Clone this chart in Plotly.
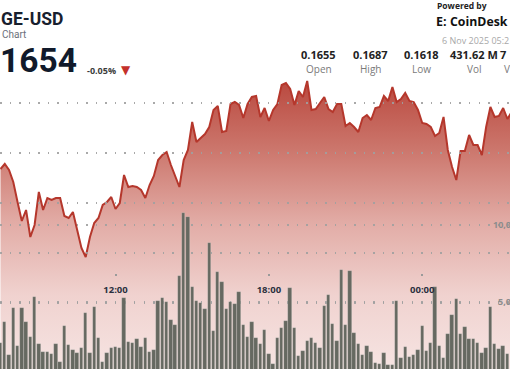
import plotly.graph_objects as go
import pandas as pd

# ---------------- data ----------------
times = pd.date_range("2025-11-05 07:30", periods=121, freq="10min")

price = [
    0.16536, 0.16556, 0.16532, 0.16484, 0.16404, 0.16328, 0.16372, 0.16264, 0.16312, 0.16444,
    0.16372, 0.16420, 0.16412, 0.16420, 0.16420, 0.16348, 0.16340, 0.16364, 0.16292, 0.16220,
    0.16184, 0.16264, 0.16320, 0.16340, 0.16392, 0.16404, 0.16424, 0.16376, 0.16400, 0.16512,
    0.16464, 0.16468, 0.16464, 0.16452, 0.16420, 0.16472, 0.16508, 0.16572, 0.16592, 0.16604,
    0.16552, 0.16508, 0.16464, 0.16572, 0.16612, 0.16724, 0.16644, 0.16660, 0.16676, 0.16704,
    0.16772, 0.16788, 0.16684, 0.16688, 0.16796, 0.16804, 0.16792, 0.16740, 0.16796, 0.16824,
    0.16828, 0.16744, 0.16780, 0.16728, 0.16772, 0.16796, 0.16872, 0.16880, 0.16856, 0.16792,
    0.16848, 0.16824, 0.16888, 0.16772, 0.16776, 0.16800, 0.16824, 0.16776, 0.16764, 0.16796,
    0.16796, 0.16708, 0.16720, 0.16704, 0.16684, 0.16740, 0.16752, 0.16732, 0.16780, 0.16784,
    0.16828, 0.16808, 0.16864, 0.16804, 0.16816, 0.16840, 0.16808, 0.16804, 0.16772, 0.16720,
    0.16716, 0.16704, 0.16668, 0.16680, 0.16744, 0.16612, 0.16544, 0.16492, 0.16608, 0.16608,
    0.16672, 0.16632, 0.16632, 0.16592, 0.16704, 0.16784, 0.16744, 0.16748, 0.16780, 0.16736,
    0.16764,
]

# volume per 10-minute bar, in millions
vol_m = [
    2.34, 3.72, 1.56, 4.63, 2.14, 4.63, 3.70, 2.73, 5.34, 2.27,
    1.75, 1.77, 1.62, 2.27, 1.12, 3.44, 2.21, 1.88, 1.71, 1.99,
    4.27, 1.67, 4.66, 2.64, 1.12, 1.67, 1.99, 2.10, 1.99, 5.28,
    2.42, 2.36, 2.58, 2.10, 2.64, 1.77, 1.88, 5.08, 5.28, 5.02,
    3.83, 3.51, 6.69, 10.76, 10.50, 5.95, 5.08, 4.95, 4.53, 8.85,
    3.14, 6.97, 6.32, 4.53, 5.02, 4.87, 5.63, 3.51, 2.71, 3.68,
    2.64, 2.27, 3.18, 1.60, 0.95, 2.68, 3.33, 3.77, 5.89, 3.29,
    1.49, 1.84, 2.49, 2.64, 2.32, 2.03, 4.74, 5.45, 3.55, 2.49,
    7.08, 3.51, 7.03, 3.01, 2.27, 1.56, 2.16, 1.77, 1.06, 0.97,
    1.71, 0.91, 0.91, 5.06, 1.34, 2.06, 1.45, 1.56, 1.88, 3.44,
    1.84, 2.32, 5.95, 2.14, 1.38, 2.92, 4.16, 5.19, 2.90, 3.36,
    2.58, 2.58, 2.36, 1.67, 2.03, 4.69, 2.27, 1.93, 2.16, 1.62,
]

x_tick_vals = ["2025-11-05 12:00", "2025-11-05 18:00", "2025-11-06 00:00"]
x_tick_text = ["12:00", "18:00", "00:00"]
price_grid = [0.160, 0.162, 0.164, 0.166, 0.168]
vol_tick_vals = [5, 10]
vol_tick_text = ["5,0", "10,0"]          # visible part of the cropped axis labels

stat_values = ["0.1655", "0.1687", "0.1618", "431.62 M", "7"]
stat_labels = ["Open", "High", "Low", "Vol", "V"]

symbol = "GE-USD"            # visible part of the cropped header
subtitle = "Chart"
last_price = "1654"
change_pct = "-0.05%"
timestamp = "6 Nov 2025 05:2"

# ---------------- layout helpers ----------------
W, H = 510, 369
FONT = "Open Sans"
HEAD_FONT = "Roboto"


def px(x):
    return x / W


def py(y):
    return 1 - y / H


X_RANGE = ["2025-11-05 07:28:50", "2025-11-06 03:26:00"]
PRICE_RANGE = [0.15736, 0.17212]
VOL_RANGE = [0.649, 24.61]
GRID_COLOR = "rgba(160,160,160,0.9)"
GRID_DASH = "1.5px,8.07px"

fig = go.Figure()

fig.add_trace(go.Scatter(
    x=times, y=price, mode="lines",
    line=dict(color="#b5372c", width=2),
    fill="tozeroy",
    fillgradient=dict(
        type="vertical", start=0.1574, stop=0.1690,
        colorscale=[
            [0.0, "#f6e4e2"],
            [0.25, "#f0d2cf"],
            [0.5, "#e2aca6"],
            [0.75, "#cc776d"],
            [1.0, "#b9473d"],
        ],
    ),
    xaxis="x", yaxis="y", hoverinfo="skip",
))

fig.add_trace(go.Bar(
    x=times[:len(vol_m)], y=vol_m,
    width=10 * 60 * 1000 * 0.8,
    marker=dict(color="#666961", line=dict(color="rgba(255,255,255,0.3)", width=0.6)),
    xaxis="x2", yaxis="y2", hoverinfo="skip",
))

# invisible trace so the overlaid price-grid axis is drawn
fig.add_trace(go.Scatter(
    x=[times[0]], y=[price_grid[0]], mode="markers",
    marker=dict(opacity=0, size=1), xaxis="x2", yaxis="y3", hoverinfo="skip",
))

annotations = []


def add_text(text, x, y, size, color, xanchor="left", yanchor="middle", bold=False, family=FONT):
    annotations.append(dict(
        text=text, x=px(x), y=py(y), xref="paper", yref="paper",
        xanchor=xanchor, yanchor=yanchor, showarrow=False, borderpad=0,
        font=dict(family=family, size=size, color=color, weight="bold" if bold else "normal"),
    ))


add_text(symbol, -0.5, 19, 17.5, "#18202e", bold=True, family=HEAD_FONT)
add_text(subtitle, 1, 34, 10, "#6b707a", family=HEAD_FONT)
add_text(last_price, -1, 60, 33.5, "#111a2b", bold=True, family=HEAD_FONT)
add_text(change_pct, 86, 70, 9, "#3c3c3c", bold=True)
add_text("▼", 126, 70, 12, "#c4312b", xanchor="center", family="DejaVu Sans")

add_text("Powered by", 436, 5.5, 8.5, "#222222", bold=True)
add_text("E:", 435, 22, 12.5, "#111111", bold=True)
add_text("CoinDesk", 448.5, 22, 12.3, "#111111", bold=True)
add_text(timestamp, 441, 40, 9, "#a8a8a8")

stat_centers = [318.5, 370, 421, 474]
for val, lab, cx in zip(stat_values[:4], stat_labels[:4], stat_centers):
    add_text(val, cx, 54, 11, "#222222", xanchor="center", bold=True)
    add_text(lab, cx, 68.5, 10, "#7a7a7a", xanchor="center")
# last column is cut by the right edge: only its first glyphs show
add_text(stat_values[4], 499, 54, 11, "#222222", bold=True)
add_text(stat_labels[4], 503, 68.5, 10, "#7a7a7a")

vol_label_x = [497, 492]
for v, t, lx in zip(vol_tick_vals, vol_tick_text, vol_label_x):
    annotations.append(dict(
        text=t, x=px(lx), y=v, xref="paper", yref="y2",
        xanchor="left", yanchor="middle", showarrow=False, borderpad=0,
        font=dict(family=FONT, size=9, color="#8c8c8c", weight="bold"),
    ))

fig.update_layout(
    width=W, height=H, autosize=False,
    margin=dict(l=0, r=0, t=0, b=0, pad=0),
    paper_bgcolor="white", plot_bgcolor="rgba(0,0,0,0)",
    showlegend=False, bargap=0,
    font=dict(family=FONT),
    xaxis=dict(range=X_RANGE, domain=[0, 1], visible=False, fixedrange=True),
    yaxis=dict(range=PRICE_RANGE, domain=[0, 1], visible=False, fixedrange=True),
    xaxis2=dict(
        range=X_RANGE, domain=[0, 1], anchor="free", position=py(273),
        showgrid=False, zeroline=False, showline=False,
        tickvals=x_tick_vals, ticktext=x_tick_text,
        ticks="outside", ticklen=2, tickwidth=1.5, tickcolor="#9a9a9a",
        ticklabelstandoff=6,
        tickfont=dict(family=FONT, size=9.5, color="#2b3140", weight="bold"),
        layer="above traces",
    ),
    yaxis2=dict(
        range=VOL_RANGE, domain=[0, 1], anchor="x2", side="right",
        showticklabels=False, ticks="", zeroline=False, showline=False,
        tickvals=vol_tick_vals, showgrid=True,
        gridcolor=GRID_COLOR, gridwidth=1.5, griddash=GRID_DASH,
    ),
    yaxis3=dict(
        range=PRICE_RANGE, overlaying="y2", anchor="x2", side="right",
        showticklabels=False, ticks="", zeroline=False, showline=False,
        tickvals=price_grid, showgrid=True,
        gridcolor=GRID_COLOR, gridwidth=1.5, griddash=GRID_DASH,
    ),
    annotations=annotations,
)

fig.write_html("out.html")
